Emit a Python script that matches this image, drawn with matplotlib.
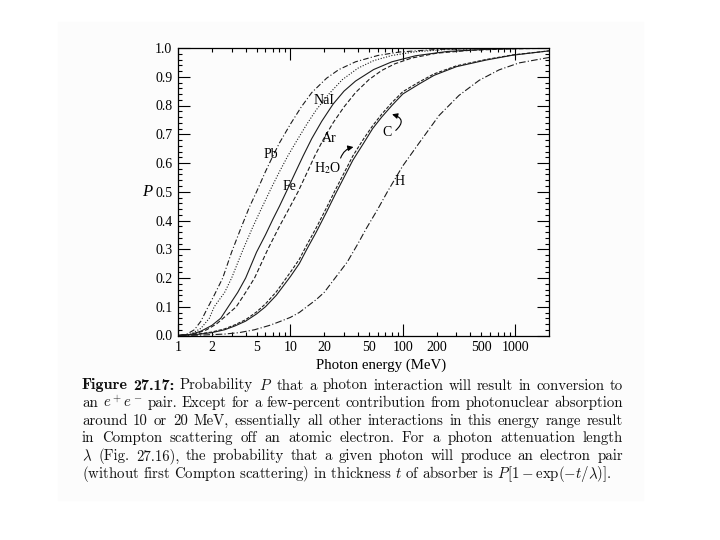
import numpy as np
import matplotlib.pyplot as plt
from matplotlib.patches import Rectangle

# Probability P of pair conversion
pb_e = [1.02, 1.2, 1.4, 1.6, 1.8, 2.1, 2.5, 3.0, 3.6, 4.3, 5.0, 6.0, 7.0, 8.0, 10, 12.5, 15.5, 21, 27, 38, 60, 93, 200, 500, 2000]
pb_p = [0, 0.005, 0.02, 0.05, 0.09, 0.14, 0.2, 0.29, 0.37, 0.445, 0.5, 0.57, 0.625, 0.67, 0.735, 0.795, 0.845, 0.895, 0.925, 0.952, 0.974, 0.986, 0.995, 0.998, 1.0]

nai_e = [1.02, 1.3, 1.6, 1.9, 2.1, 2.6, 3.0, 3.8, 4.6, 5.5, 6.8, 8.0, 9.5, 11.5, 14, 17, 22, 29, 40, 55, 80, 130, 250, 600, 2000]
nai_p = [0, 0.005, 0.025, 0.06, 0.1, 0.15, 0.2, 0.3, 0.375, 0.44, 0.515, 0.57, 0.625, 0.68, 0.735, 0.785, 0.84, 0.89, 0.93, 0.956, 0.974, 0.987, 0.995, 0.998, 1.0]

fe_e = [1.02, 1.3, 1.6, 2.0, 2.4, 2.8, 3.4, 4.0, 5.0, 6.0, 7.0, 8.0, 9.2, 11, 13, 15.5, 19, 24, 30, 38, 55, 80, 130, 250, 600, 2000]
fe_p = [0, 0.004, 0.015, 0.035, 0.06, 0.1, 0.15, 0.2, 0.29, 0.35, 0.405, 0.45, 0.5, 0.565, 0.625, 0.685, 0.745, 0.805, 0.85, 0.885, 0.925, 0.952, 0.973, 0.988, 0.996, 1.0]

ar_e = [1.02, 1.4, 1.8, 2.2, 2.7, 3.3, 4.0, 4.8, 5.5, 6.3, 8.0, 10, 11.7, 14, 16.5, 19.5, 24, 30, 38, 50, 65, 85, 120, 200, 400, 900, 2000]
ar_p = [0, 0.005, 0.02, 0.04, 0.07, 0.1, 0.15, 0.2, 0.25, 0.3, 0.38, 0.45, 0.5, 0.565, 0.625, 0.68, 0.74, 0.795, 0.845, 0.89, 0.922, 0.945, 0.965, 0.982, 0.992, 0.997, 0.999]

c_e = [1.02, 1.5, 2.0, 2.6, 3.2, 4.0, 5.0, 6.0, 7.5, 10, 12, 14, 17, 21, 25, 30, 36, 45, 54, 65, 80, 100, 140, 190, 300, 550, 950, 2000]
c_p = [0, 0.004, 0.01, 0.02, 0.033, 0.05, 0.075, 0.1, 0.14, 0.205, 0.25, 0.3, 0.36, 0.43, 0.49, 0.55, 0.61, 0.67, 0.72, 0.76, 0.8, 0.84, 0.875, 0.905, 0.935, 0.958, 0.975, 0.99]
h2o_p = [0, 0.005, 0.012, 0.023, 0.037, 0.055, 0.082, 0.11, 0.152, 0.22, 0.265, 0.315, 0.375, 0.445, 0.505, 0.565, 0.625, 0.685, 0.73, 0.77, 0.81, 0.848, 0.882, 0.91, 0.938, 0.96, 0.976, 0.99]

h_e = [1.02, 1.5, 2.0, 2.6, 3.5, 4.8, 6.5, 8, 10, 12, 14, 17, 20, 25, 32, 40, 47, 60, 73, 100, 140, 210, 316, 480, 720, 1080, 2000]
h_p = [0, 0.001, 0.003, 0.005, 0.01, 0.02, 0.035, 0.048, 0.063, 0.08, 0.1, 0.125, 0.15, 0.2, 0.255, 0.32, 0.37, 0.44, 0.5, 0.59, 0.67, 0.765, 0.835, 0.888, 0.924, 0.948, 0.967]

minor_ticks = [2, 3, 4, 5, 6, 7, 8, 9, 20, 30, 40, 50, 60, 70, 80, 90, 200, 300, 400, 500, 600, 700, 800, 900]
minor_labels = ['2', '', '', '5', '', '', '', '', '20', '', '', '50', '', '', '', '',
                '200', '', '', '500', '', '', '', '']

caption_head = "Figure 27.17:"
caption = [
    "Probability $P$ that a photon interaction will result in conversion to",
    "an $e^+e^-$ pair. Except for a few-percent contribution from photonuclear absorption",
    "around 10 or 20 MeV, essentially all other interactions in this energy range result",
    "in Compton scattering off an atomic electron. For a photon attenuation length",
    r"$\lambda$ (Fig. 27.16), the probability that a given photon will produce an electron pair",
    r"(without first Compton scattering) in thickness $t$ of absorber is $P[1-\exp(-t/\lambda)]$.",
]

W, H = 720, 540
SERIF = 'Liberation Serif'
INK = '#1c1c1c'

fig = plt.figure(figsize=(7.2, 5.4), dpi=100)
fig.patches.append(Rectangle((58 / W, 1 - 500 / H), 585 / W, 478 / H,
                             transform=fig.transFigure, color='#fcfcfc', zorder=-5))

ax = fig.add_axes([178 / W, 1 - 335.5 / H, 371 / W, 287.5 / H])
ax.set_facecolor('none')

ax.plot(pb_e, pb_p, color=INK, lw=0.8, ls=(0, (5, 2, 1, 2)))
ax.plot(nai_e, nai_p, color=INK, lw=0.8, ls=(0, (1, 1.5)))
ax.plot(fe_e, fe_p, color=INK, lw=0.8, ls='-')
ax.plot(ar_e, ar_p, color=INK, lw=0.8, ls=(0, (4, 2)))
ax.plot(c_e, h2o_p, color=INK, lw=0.8, ls=(0, (3, 1.5)))
ax.plot(c_e, c_p, color=INK, lw=0.8, ls='-')
ax.plot(h_e, h_p, color=INK, lw=0.8, ls=(0, (6, 2, 1, 2)))

ax.set_xscale('log')
ax.set_xlim(1, 2000)
ax.set_ylim(0, 1.0)

ax.set_xticks([1, 10, 100, 1000], labels=['1', '10', '100', '1000'])
ax.set_xticks(minor_ticks, labels=minor_labels, minor=True)
yt = np.arange(0, 1.01, 0.1)
ax.set_yticks(yt, labels=[f'{v:.1f}' for v in yt])
ax.set_yticks(np.arange(0, 1.001, 0.02), minor=True)

ax.tick_params(which='both', direction='in', top=True, right=True, width=0.8,
               labelsize=10, pad=4, colors='black')
ax.tick_params(which='major', length=8.5)
ax.tick_params(which='minor', length=3)
for lab in ax.get_xticklabels(which='both') + ax.get_yticklabels():
    lab.set_family(SERIF)
for s in ax.spines.values():
    s.set_linewidth(0.9)

# curve labels
lab_kw = dict(family=SERIF, fontsize=10, ha='center', va='center', color='black')
ax.text(20.0, 0.817, 'NaI', **lab_kw)
ax.text(6.7, 0.628, 'Pb', **lab_kw)
ax.text(22.2, 0.684, 'Ar', **lab_kw)
ax.text(21.3, 0.584, r'H$_2$O', math_fontfamily='stix', **lab_kw)
ax.text(9.8, 0.517, 'Fe', **lab_kw)
ax.text(72, 0.705, 'C', **lab_kw)
ax.text(94, 0.534, 'H', **lab_kw)

ax.annotate('', xy=(38.5, 0.657), xytext=(27.5, 0.608),
            arrowprops=dict(arrowstyle='-|>', color='black', lw=0.8, mutation_scale=8,
                            connectionstyle='arc3,rad=-0.35'))
ax.annotate('', xy=(76, 0.772), xytext=(83, 0.707),
            arrowprops=dict(arrowstyle='-|>', color='black', lw=0.8, mutation_scale=8,
                            connectionstyle='arc3,rad=1.0'))

ax.text(-0.083, 0.5, 'P', transform=ax.transAxes, family=SERIF, style='italic',
        fontsize=12, ha='center', va='center')
fig.text(381 / W, 1 - 365 / H, 'Photon energy (MeV)', family=SERIF, fontsize=10.7,
         ha='center', va='center')

# caption, justified between x0 and x1 (last line left ragged)
renderer = fig.canvas.get_renderer()


def text_width(s, size, family='cmr10'):
    t = fig.text(0, 0, s, family=family, fontsize=size, math_fontfamily='cm')
    w = t.get_window_extent(renderer).width
    t.remove()
    return w


x0, x1 = 82, 623
base = 10
nat = text_width(caption[-1], base)
size = base * 530 / nat
head_size = size * 1.08


def put(x, yb, s, family, fs):
    fig.text(x / W, 1 - yb / H, s, family=family, fontsize=fs, math_fontfamily='cm',
             va='baseline', ha='left', color='#111111')


for i, line in enumerate(caption):
    yb = 389.5 + 17.6 * i
    if i == len(caption) - 1:
        put(x0, yb, line, 'cmr10', size)
        continue
    words = line.split(' ')
    fams = ['cmr10'] * len(words)
    sizes = [size] * len(words)
    if i == 0:
        words = caption_head.split(' ') + words
        fams = ['cmb10', 'cmb10'] + fams
        sizes = [head_size, head_size] + sizes
    widths = [text_width(w, fs, f) for w, f, fs in zip(words, fams, sizes)]
    gap = (x1 - x0 - sum(widths)) / (len(words) - 1)
    x = x0
    for w, f, fs, wd in zip(words, fams, sizes, widths):
        put(x, yb, w, f, fs)
        x += wd + gap

fig.savefig('out.png', dpi=100, facecolor='white')
